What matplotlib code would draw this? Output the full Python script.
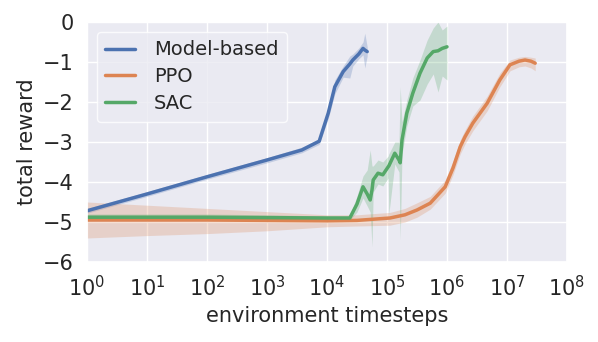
import numpy as np
import matplotlib
matplotlib.use("Agg")
import matplotlib.pyplot as plt
import seaborn as sns

sns.set_theme(style="darkgrid")
plt.rcParams['font.family'] = ['DejaVu Sans']

# ---- data (x given as log10 of environment timesteps) ----
mb_logx = [0, 1, 2, 3, 3.58, 3.87, 4.02, 4.13, 4.27, 4.38, 4.43, 4.53, 4.6, 4.63, 4.67]
mb_mean = [-4.72, -4.30, -3.87, -3.45, -3.20, -2.98, -2.28, -1.62, -1.24, -1.05, -0.95, -0.80, -0.66, -0.70, -0.74]
mb_lo = [-4.78, -4.36, -3.93, -3.52, -3.27, -3.06, -2.42, -1.80, -1.38, -1.40, -1.10, -0.92, -0.82, -1.15, -0.85]
mb_hi = [-4.66, -4.24, -3.81, -3.39, -3.13, -2.92, -2.15, -1.45, -1.10, -0.85, -0.80, -0.65, -0.50, -0.28, -0.62]

ppo_logx = [0, 1, 2, 3, 4, 4.5, 5.05, 5.3, 5.5, 5.72, 5.97, 6.1, 6.22, 6.3, 6.43, 6.67, 6.88, 7.05, 7.2,
            7.3, 7.4, 7.47]
ppo_mean = [-4.95, -4.95, -4.95, -4.96, -4.97, -4.96, -4.90, -4.82, -4.70, -4.53, -4.12, -3.65, -3.12, -2.87,
            -2.53, -2.03, -1.45, -1.07, -0.98, -0.95, -0.98, -1.03]
ppo_lo = [-5.40, -5.34, -5.29, -5.22, -5.12, -5.10, -5.08, -5.00, -4.88, -4.68, -4.28, -3.82, -3.30, -3.05,
          -2.72, -2.22, -1.62, -1.22, -1.12, -1.10, -1.15, -1.22]
ppo_hi = [-4.50, -4.58, -4.66, -4.74, -4.82, -4.82, -4.76, -4.66, -4.52, -4.36, -3.95, -3.48, -2.95, -2.70,
          -2.35, -1.85, -1.28, -0.95, -0.88, -0.86, -0.88, -0.90]

sac_logx = [0, 1, 2, 3, 4, 4.38, 4.5, 4.6, 4.67, 4.72, 4.75, 4.77, 4.85, 4.93, 5.02, 5.03, 5.13, 5.2, 5.22,
            5.25, 5.33, 5.43, 5.55, 5.67, 5.77, 5.85, 5.92, 6.0]
sac_mean = [-4.88, -4.88, -4.88, -4.89, -4.90, -4.90, -4.55, -4.12, -4.30, -4.45, -4.20, -3.95, -3.78, -3.82,
            -3.62, -3.60, -3.28, -3.45, -3.52, -2.95, -2.28, -1.78, -1.28, -0.90, -0.74, -0.72, -0.66, -0.62]
sac_lo = [-4.93, -4.93, -4.93, -4.93, -4.95, -4.95, -4.75, -4.40, -4.60, -4.75, -5.62, -4.25, -4.05, -4.10,
          -3.90, -4.80, -3.55, -3.75, -5.45, -3.30, -2.60, -2.10, -1.95, -1.55, -1.30, -1.75, -1.35, -1.45]
sac_hi = [-4.80, -4.80, -4.80, -4.82, -4.85, -4.85, -4.35, -3.85, -3.70, -3.20, -3.60, -3.60, -3.45, -3.50,
          -3.35, -3.30, -3.00, -3.00, -1.62, -2.50, -1.95, -1.40, -0.95, -0.45, -0.15, -0.00, -0.20, -0.10]

labels = ["Model-based", "PPO", "SAC"]
colors = ["#4C72B0", "#DD8452", "#55A868"]
series = [(mb_logx, mb_mean, mb_lo, mb_hi),
          (ppo_logx, ppo_mean, ppo_lo, ppo_hi),
          (sac_logx, sac_mean, sac_lo, sac_hi)]

fig, ax = plt.subplots(figsize=(5.98, 3.42), dpi=100)
fig.subplots_adjust(left=87/598, right=567/598, top=1-22/342, bottom=1-262/342)

for (lx, m, lo, hi), lab, c in zip(series, labels, colors):
    steps = 10 ** np.array(lx, dtype=float)
    ax.fill_between(steps, lo, hi, color=c, alpha=0.25, linewidth=0)
    ax.plot(steps, m, color=c, lw=2.5, label=lab)

ax.set_xscale("log")
ax.set_xlim(1, 1e8)
ax.set_ylim(-6, 0)
ax.set_xticks([10.0**k for k in range(9)])
ax.set_yticks(range(-6, 1))
ax.minorticks_off()
ax.tick_params(labelsize=15)
ax.set_xlabel("environment timesteps", fontsize=15)
ax.set_ylabel("total reward", fontsize=15)

leg = ax.legend(loc="upper left", fontsize=14, handlelength=1.5, handletextpad=1.0,
                frameon=True, borderpad=0.45, labelspacing=0.4)
leg.get_frame().set_edgecolor("white")
leg.get_frame().set_facecolor("#EAEAF2")

fig.savefig("out.png", dpi=100)
